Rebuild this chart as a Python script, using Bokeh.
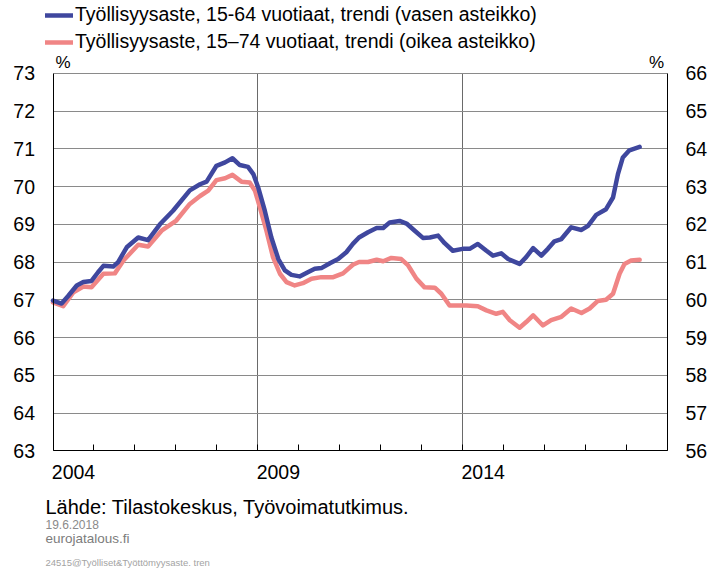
from bokeh.plotting import figure
from bokeh.models import Range1d, LinearAxis, FixedTicker, Legend, LegendItem, Label, Grid
from bokeh.embed import file_html
from bokeh.resources import INLINE

# ---- data ----
blue_years = [2004.00, 2004.21, 2004.37, 2004.58, 2004.74, 2004.94, 2005.10, 2005.23, 2005.47, 2005.59,
              2005.80, 2006.08, 2006.32, 2006.61, 2006.93, 2007.34, 2007.59, 2007.75, 2007.99, 2008.20,
              2008.38, 2008.56, 2008.76, 2008.89, 2009.01, 2009.17, 2009.33, 2009.50, 2009.66, 2009.82,
              2010.02, 2010.22, 2010.39, 2010.55, 2010.76, 2010.96, 2011.16, 2011.32, 2011.47, 2011.69,
              2011.90, 2012.06, 2012.22, 2012.46, 2012.63, 2012.83, 2013.03, 2013.20, 2013.40, 2013.56,
              2013.76, 2014.00, 2014.17, 2014.37, 2014.58, 2014.74, 2014.94, 2015.11, 2015.39, 2015.55,
              2015.72, 2015.92, 2016.08, 2016.24, 2016.41, 2016.65, 2016.90, 2017.06, 2017.26, 2017.50,
              2017.67, 2017.79, 2017.91, 2018.07, 2018.32]
blue_values = [66.98, 66.90, 67.10, 67.38, 67.47, 67.50, 67.73, 67.90, 67.88, 68.00,
               68.39, 68.65, 68.58, 69.00, 69.36, 69.90, 70.06, 70.13, 70.55, 70.64,
               70.75, 70.57, 70.52, 70.33, 69.97, 69.36, 68.65, 68.08, 67.78, 67.66,
               67.62, 67.73, 67.82, 67.84, 67.97, 68.08, 68.26, 68.48, 68.65, 68.79,
               68.90, 68.90, 69.05, 69.09, 69.02, 68.83, 68.64, 68.65, 68.70, 68.50,
               68.30, 68.35, 68.35, 68.48, 68.30, 68.17, 68.23, 68.08, 67.95, 68.13,
               68.37, 68.17, 68.35, 68.55, 68.61, 68.92, 68.85, 68.96, 69.25, 69.40,
               69.71, 70.33, 70.77, 70.96, 71.05]

pink_years = [2004.00, 2004.25, 2004.50, 2004.74, 2004.94, 2005.23, 2005.51, 2005.72, 2006.08, 2006.32,
              2006.65, 2007.01, 2007.34, 2007.59, 2007.79, 2007.99, 2008.20, 2008.38, 2008.60, 2008.80,
              2008.93, 2009.05, 2009.21, 2009.37, 2009.54, 2009.70, 2009.90, 2010.10, 2010.31, 2010.55,
              2010.84, 2011.08, 2011.32, 2011.47, 2011.69, 2011.90, 2012.06, 2012.26, 2012.50, 2012.67,
              2012.87, 2013.07, 2013.32, 2013.48, 2013.68, 2013.89, 2014.09, 2014.37, 2014.58, 2014.82,
              2014.98, 2015.15, 2015.39, 2015.55, 2015.72, 2015.96, 2016.16, 2016.41, 2016.65, 2016.90,
              2017.10, 2017.30, 2017.50, 2017.67, 2017.83, 2017.95, 2018.11, 2018.32]
pink_values = [59.93, 59.83, 60.20, 60.35, 60.33, 60.69, 60.70, 61.04, 61.46, 61.41,
               61.83, 62.10, 62.54, 62.75, 62.89, 63.17, 63.22, 63.31, 63.13, 63.11,
               62.89, 62.45, 61.83, 61.13, 60.69, 60.47, 60.38, 60.44, 60.56, 60.60,
               60.60, 60.70, 60.93, 61.00, 61.00, 61.06, 61.02, 61.11, 61.08, 60.91,
               60.56, 60.33, 60.32, 60.16, 59.85, 59.85, 59.85, 59.83, 59.72, 59.63,
               59.68, 59.46, 59.26, 59.41, 59.59, 59.32, 59.46, 59.55, 59.77, 59.65,
               59.77, 59.97, 60.00, 60.16, 60.69, 60.95, 61.04, 61.06]

left_ticks = list(range(63, 74))
right_ticks = list(range(56, 67))
year_label_pos = [2004.5, 2009.5, 2014.5]
year_labels = ["2004", "2009", "2014"]
year_bounds = list(range(2004, 2020))
vgrid_years = [2009, 2014]

label_blue = "Työllisyysaste, 15-64 vuotiaat, trendi (vasen asteikko)"
label_pink = "Työllisyysaste, 15–74 vuotiaat, trendi (oikea asteikko)"
foot_texts = ["Lähde: Tilastokeskus, Työvoimatutkimus.", "19.6.2018", "eurojatalous.fi",
              "24515@Työlliset&Työttömyysaste. tren"]

# ---- layout / style ----
W, H = 712, 568
X0, X1 = 2004, 2019          # left / right axis positions (years)
L0, L1 = 63, 73              # left scale
R0, R1 = 56, 66              # right scale
PX_X0, PX_X1 = 52.5, 667.0   # pixel columns of the plot edges
PX_YTOP, PX_YBOT = 72.8, 450.3

kx = (X1 - X0) / (PX_X1 - PX_X0)
ky = (L1 - L0) / (PX_YBOT - PX_YTOP)
def xd(px):
    return X0 + (px - PX_X0) * kx
def yd(py):
    return L1 - (py - PX_YTOP) * ky

FONT = "Liberation Sans"
BLUE = "#3F479E"
PINK = "#F08585"
HGRID = "#8a8a8a"
VGRID = "#6a6a6a"

p = figure(width=W, height=H,
           x_range=Range1d(xd(0), xd(W)), y_range=Range1d(yd(H), yd(0)),
           output_backend="svg", toolbar_location=None,
           min_border_left=0, min_border_right=0, min_border_top=0, min_border_bottom=0)
p.extra_y_ranges = {"right": Range1d(yd(H) - (L0 - R0), yd(0) - (L0 - R0))}
p.outline_line_color = None
p.background_fill_color = "white"
p.border_fill_color = "white"

def style_y(ax):
    ax.major_tick_line_color = None
    ax.minor_tick_line_color = None
    ax.major_tick_out = 0
    ax.major_tick_in = 0
    ax.minor_tick_out = 0
    ax.minor_tick_in = 0
    ax.major_label_standoff = 18
    ax.major_label_text_font = FONT
    ax.major_label_text_font_size = "19.5px"
    ax.major_label_text_color = "black"
    ax.axis_line_color = "black"

ya = p.yaxis[0]
ya.ticker = FixedTicker(ticks=left_ticks)
ya.fixed_location = X0
ya.bounds = (L0, L1)
style_y(ya)

ra = LinearAxis(y_range_name="right", ticker=FixedTicker(ticks=right_ticks))
ra.fixed_location = X1
ra.bounds = (R0, R1)
style_y(ra)
p.add_layout(ra, "right")

xa = p.xaxis[0]
xa.ticker = FixedTicker(ticks=year_label_pos, minor_ticks=year_bounds)
xa.major_label_overrides = {k: v for k, v in zip(year_label_pos, year_labels)}
xa.fixed_location = L0
xa.bounds = (X0, X1)
xa.major_tick_line_color = None
xa.major_tick_out = 0
xa.major_tick_in = 0
xa.minor_tick_in = 6
xa.minor_tick_out = 0
xa.minor_tick_line_color = "black"
xa.major_label_standoff = 14
xa.major_label_text_font = FONT
xa.major_label_text_font_size = "19.5px"
xa.major_label_text_color = "black"
xa.axis_line_color = "black"

# grids, limited to the plot box
has_cross = hasattr(Grid, "cross_bounds")
p.ygrid.ticker = FixedTicker(ticks=left_ticks)
p.ygrid.bounds = (L0, L1)
p.ygrid.grid_line_color = HGRID
p.ygrid.grid_line_width = 1
p.xgrid.ticker = FixedTicker(ticks=vgrid_years)
p.xgrid.bounds = (X0, X1)
p.xgrid.grid_line_color = VGRID
p.xgrid.grid_line_width = 1
if has_cross:
    p.ygrid.cross_bounds = (X0, X1)
    p.xgrid.cross_bounds = (L0, L1)
else:
    p.grid.visible = False
    p.segment(x0=[X0] * len(left_ticks), y0=left_ticks, x1=[X1] * len(left_ticks), y1=left_ticks,
              line_color=HGRID, line_width=1)
    p.segment(x0=vgrid_years, y0=[L0] * len(vgrid_years), x1=vgrid_years, y1=[L1] * len(vgrid_years),
              line_color=VGRID, line_width=1)

r_pink = p.line(pink_years, pink_values, line_color=PINK, line_width=4.5, line_join="round",
                line_cap="round", y_range_name="right")
r_blue = p.line(blue_years, blue_values, line_color=BLUE, line_width=4.5, line_join="round",
                line_cap="round")

legend = Legend(items=[LegendItem(label=label_blue, renderers=[r_blue]),
                       LegendItem(label=label_pink, renderers=[r_pink])],
                location=(45, H - 53), orientation="vertical",
                label_text_font=FONT, label_text_font_size="19.5px", label_text_color="black",
                glyph_width=28, glyph_height=22, label_height=22, spacing=4,
                padding=0, margin=0, label_standoff=2,
                border_line_color=None, background_fill_alpha=0)
p.add_layout(legend)

# "%" unit marks
for px_ in (62.5, 656.0):
    p.add_layout(Label(x=xd(px_), y=yd(62), text="%", text_align="center", text_baseline="middle",
                       text_font=FONT, text_font_size="17px", text_color="black"))

# source notes
foot_y = [506, 523.5, 538, 561.5]
foot_sizes = ["20px", "12px", "13.5px", "9.5px"]
foot_colors = ["black", "#8a8a8a", "#7c7c7c", "#a3a3a3"]
for ty, tt, ts, tc in zip(foot_y, foot_texts, foot_sizes, foot_colors):
    p.add_layout(Label(x=xd(45), y=yd(ty), text=tt, text_align="left", text_baseline="alphabetic",
                       text_font=FONT, text_font_size=ts, text_color=tc))

open("out.html", "w").write(file_html(p, INLINE))
